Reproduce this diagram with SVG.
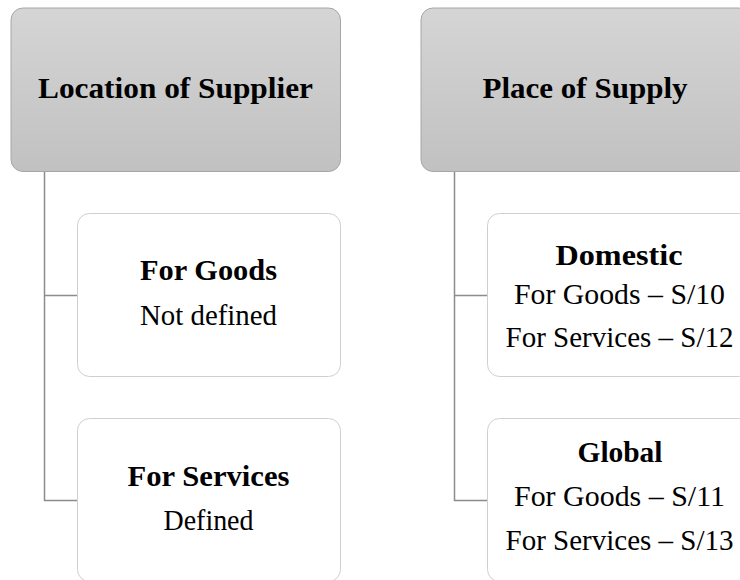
<svg xmlns="http://www.w3.org/2000/svg" width="740" height="580" viewBox="0 0 740 580">
<defs>
<linearGradient id="hg" x1="0" y1="0" x2="0" y2="1">
<stop offset="0" stop-color="#d5d5d5"/>
<stop offset="1" stop-color="#c1c1c1"/>
</linearGradient>
</defs>
<style>
.head{fill:url(#hg);stroke:#a6a6a6;stroke-width:1}
.child{fill:#ffffff;stroke:#cfcfcf;stroke-width:1}
.conn{fill:none;stroke:#8c8c8c;stroke-width:1.5}
text{font-family:"Liberation Serif","Times New Roman",serif;font-size:29px;fill:#000;text-anchor:middle}
.b{font-weight:bold}
</style>
<rect width="740" height="580" fill="#ffffff"/>
<g id="connectors">
<path class="conn" d="M44.5,172 V500.5 H77"/>
<path class="conn" d="M44.5,295.5 H77"/>
<path class="conn" d="M454.5,172 V500.5 H488"/>
<path class="conn" d="M454.5,295.5 H488"/>
</g>
<g id="location-of-supplier">
<rect class="head" x="11" y="8" width="329.5" height="163.5" rx="12"/>
<text class="b" x="175.5" y="98" textLength="275" lengthAdjust="spacingAndGlyphs">Location of Supplier</text>
</g>
<g id="place-of-supply">
<rect class="head" x="421" y="8" width="329.5" height="163.5" rx="12"/>
<text class="b" x="585" y="98" textLength="205" lengthAdjust="spacingAndGlyphs">Place of Supply</text>
</g>
<g id="for-goods">
<rect class="child" x="77.5" y="213.5" width="263" height="163" rx="12"/>
<text class="b" x="208.5" y="280" textLength="137" lengthAdjust="spacingAndGlyphs">For Goods</text>
<text x="208.5" y="325" textLength="137" lengthAdjust="spacingAndGlyphs">Not defined</text>
</g>
<g id="for-services">
<rect class="child" x="77.5" y="418.5" width="263" height="163" rx="12"/>
<text class="b" x="208.5" y="486" textLength="162" lengthAdjust="spacingAndGlyphs">For Services</text>
<text x="208.5" y="530" textLength="90" lengthAdjust="spacingAndGlyphs">Defined</text>
</g>
<g id="domestic">
<rect class="child" x="487.5" y="213.5" width="263" height="163" rx="12"/>
<text class="b" x="619" y="265" textLength="127" lengthAdjust="spacingAndGlyphs">Domestic</text>
<text x="619.5" y="303.5" textLength="211" lengthAdjust="spacingAndGlyphs">For Goods – S/10</text>
<text x="619.5" y="347" textLength="228" lengthAdjust="spacingAndGlyphs">For Services – S/12</text>
</g>
<g id="global">
<rect class="child" x="487.5" y="418.5" width="263" height="163" rx="12"/>
<text class="b" x="620" y="462" textLength="85" lengthAdjust="spacingAndGlyphs">Global</text>
<text x="619.5" y="506" textLength="211" lengthAdjust="spacingAndGlyphs">For Goods – S/11</text>
<text x="619.5" y="550" textLength="228" lengthAdjust="spacingAndGlyphs">For Services – S/13</text>
</g>
</svg>
